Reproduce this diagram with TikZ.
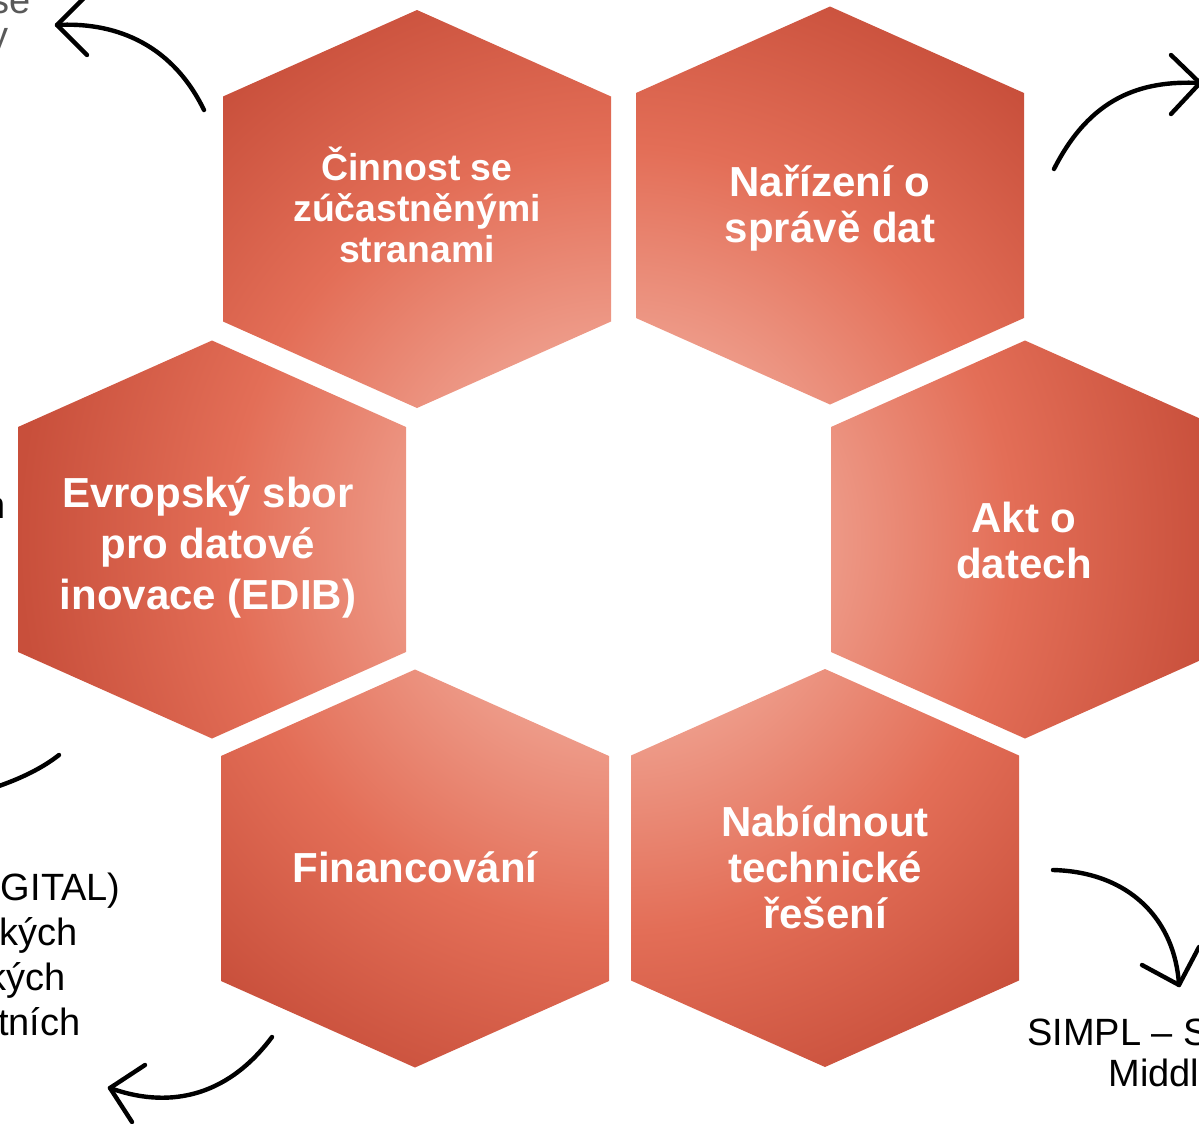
\documentclass[tikz,border=0pt]{standalone}
\usepackage{fontspec}
\setmainfont{Liberation Sans}
\definecolor{hexlight}{HTML}{EE9C8A}
\definecolor{hexmid}{HTML}{E36E57}
\definecolor{hexdark}{HTML}{C84F3B}
\definecolor{fraggray}{HTML}{595959}
\pgfdeclareradialshading{ringshade}{\pgfpoint{0bp}{0bp}}{color(0bp)=(hexlight); color(7bp)=(hexlight); color(14bp)=(hexmid); color(21.5bp)=(hexdark); color(50bp)=(hexdark)}
\newcommand\hexat[2]{(#1,#2-199) -- (#1+194,#2-112.5) -- (#1+194,#2+112.5) -- (#1,#2+199) -- (#1-194,#2+112.5) -- (#1-194,#2-112.5) -- cycle}
\begin{document}
\begin{tikzpicture}[x=0.5pt,y=-0.5pt,
  hextext/.style={text=white, font=\bfseries\fontsize{21}{23}\selectfont, align=center, inner sep=0},
  fragtext/.style={font=\fontsize{19}{22.5}\selectfont, inner sep=0},
  curvearrow/.style={line width=2.2pt, line cap=round, line join=round}]
\useasboundingbox (0,0) rectangle (1199,1124);
\begin{scope}
  \clip \hexat{417}{209} \hexat{830}{205.5} \hexat{212}{539.5} \hexat{1025}{539.5} \hexat{415}{868.5} \hexat{825}{868};
  \shade[shading=ringshade] (620,539) circle (350pt);
\end{scope}
\node[hextext, font=\bfseries\fontsize{18.7}{20.5}\selectfont] (h1) at (417,205) {Činnost se\\zúčastněnými\\stranami};
\node[hextext] (h2) at (830,208) {Nařízení o\\správě dat};
\node[hextext, font=\bfseries\fontsize{21}{25.5}\selectfont] (h3) at (208,547) {Evropský sbor\\pro datové\\inovace (EDIB)};
\node[hextext] (h4) at (1024,540) {Akt o\\datech};
\node[hextext] (h5) at (415,867) {Financování};
\node[hextext] (h6) at (825,867) {Nabídnout\\technické\\řešení};
% text fragments at the edges
\node[fragtext, text=fraggray, anchor=base east] (f1) at (31,13) {se};
\node[fragtext, text=fraggray, anchor=base east] (f2) at (9,48) {y};
\node[fragtext, anchor=base east] (f3) at (6,518) {n};
\node[fragtext, anchor=base east] (f4) at (121,900) {GITAL)};
\node[fragtext, anchor=base east] (f5) at (78,945) {kých};
\node[fragtext, anchor=base east] (f6) at (66,990) {kých};
\node[fragtext, anchor=base east] (f7) at (81,1035) {tních};
\node[fragtext, anchor=base west] (f8) at (1027,1045) {SIMPL – S};
\node[fragtext, anchor=base west] (f9) at (1108,1086) {Middl};
% arrows
\coordinate (a1s) at (204,110); \coordinate (a1t) at (57,25);
\coordinate (a1u) at (87,-5); \coordinate (a1l) at (87,55);
\draw[curvearrow] (a1s) .. controls (170,40) and (110,22) .. (a1t);
\draw[curvearrow] (a1u) -- (a1t) -- (a1l);
\coordinate (a2s) at (1054,169); \coordinate (a2t) at (1200,83);
\coordinate (a2u) at (1171,55); \coordinate (a2l) at (1171,114);
\draw[curvearrow] (a2s) .. controls (1090,98) and (1140,80) .. (a2t);
\draw[curvearrow] (a2u) -- (a2t) -- (a2l);
\coordinate (a3s) at (59,755); \coordinate (a3e) at (-10,789);
\draw[curvearrow] (a3s) .. controls (40,770) and (15,781) .. (a3e);
\coordinate (a4s) at (272,1037); \coordinate (a4t) at (110,1088);
\coordinate (a4u) at (145,1065); \coordinate (a4l) at (132,1122);
\draw[curvearrow] (a4s) .. controls (225,1100) and (165,1108) .. (a4t);
\draw[curvearrow] (a4u) -- (a4t) -- (a4l);
\coordinate (a5s) at (1053,870); \coordinate (a5t) at (1179,985);
\coordinate (a5u) at (1142,965); \coordinate (a5l) at (1199,947);
\draw[curvearrow] (a5s) .. controls (1130,872) and (1175,920) .. (a5t);
\draw[curvearrow] (a5u) -- (a5t) -- (a5l);
\end{tikzpicture}
\end{document}
